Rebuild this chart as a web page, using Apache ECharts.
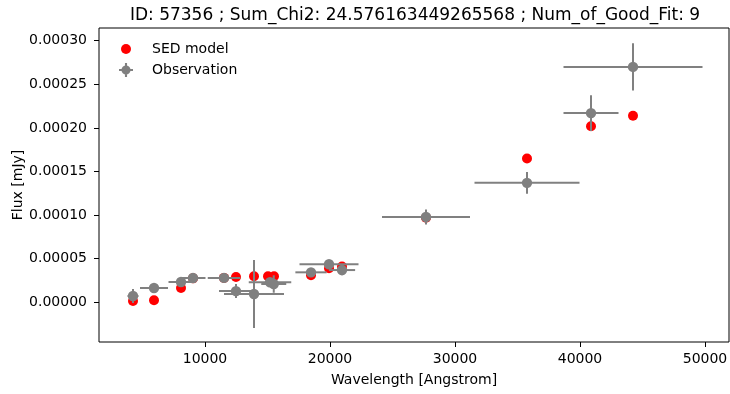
<!DOCTYPE html>
<html>
<head>
<meta charset="utf-8">
<script src="https://cdn.jsdelivr.net/npm/echarts@6/dist/echarts.min.js"></script>
<style>
  html, body { margin: 0; padding: 0; background: #fff; }
  #chart { width: 730px; height: 394px; }
</style>
</head>
<body>
<div id="chart"></div>
<script>
// Observed photometry: wavelength (Angstrom), flux (mJy) and the error half-widths
const obsWave = [4240, 5920, 8080, 9040, 11520, 12480, 13920, 15200, 15500, 18480, 19920, 20960, 27680, 35760, 40880, 44240];
const obsFlux = [7.2e-6, 1.64e-5, 2.33e-5, 2.79e-5, 2.8e-5, 1.29e-5, 9.5e-6, 2.3e-5, 2.1e-5, 3.44e-5, 4.37e-5, 3.7e-5, 9.78e-5, 1.37e-4, 2.17e-4, 2.70e-4];
const obsWaveErr = [440, 1120, 1000, 1000, 1300, 1360, 2400, 1700, 1000, 1250, 2360, 1050, 3520, 4200, 2200, 5560];
const obsFluxErr = [8e-6, 2e-6, 3e-6, 2e-6, 2e-6, 8e-6, 3.9e-5, 3e-6, 1e-5, 3e-6, 3e-6, 6e-6, 8.6e-6, 1.26e-5, 2.06e-5, 2.7e-5];

// Best-fit SED model fluxes
const modelWave = [4240, 5920, 8080, 9040, 11520, 12480, 13920, 15040, 15520, 18480, 19920, 20960, 27680, 35760, 40880, 44240];
const modelFlux = [1.5e-6, 2.4e-6, 1.64e-5, 2.75e-5, 2.8e-5, 2.9e-5, 3.0e-5, 3.0e-5, 3.0e-5, 3.1e-5, 3.9e-5, 4.1e-5, 9.7e-5, 1.65e-4, 2.02e-4, 2.14e-4];

// Tick labels
const xTicks = [10000, 20000, 30000, 40000, 50000];
const yTicks = [0, 0.00005, 0.0001, 0.00015, 0.0002, 0.00025, 0.0003];

const titleText = 'ID: 57356 ; Sum_Chi2: 24.576163449265568 ; Num_of_Good_Fit: 9';

const FONT = 'DejaVu Sans';
const RED = '#ff0000';
const GRAY = '#808080';

const modelData = modelWave.map((w, i) => [w, modelFlux[i]]);
const obsData = obsWave.map((w, i) => [w, obsFlux[i], obsWaveErr[i], obsFluxErr[i]]);

// Legend glyph: dot with a cross of error bars
const obsIcon = 'path://M0,8.5H20V11.5H0Z M8.5,0H11.5V20H8.5Z M10,3.5A6.5,6.5,0,1,1,10,16.5A6.5,6.5,0,1,1,10,3.5Z';

function renderErrorBar(params, api) {
  const x = api.value(0), y = api.value(1), dx = api.value(2), dy = api.value(3);
  const c = api.coord([x, y]);
  const l = api.coord([x - dx, y]);
  const r = api.coord([x + dx, y]);
  const t = api.coord([x, y + dy]);
  const b = api.coord([x, y - dy]);
  const style = { stroke: GRAY, lineWidth: 2, fill: null };
  return {
    type: 'group',
    children: [
      { type: 'line', shape: { x1: l[0], y1: l[1], x2: r[0], y2: r[1] }, style },
      { type: 'line', shape: { x1: t[0], y1: t[1], x2: b[0], y2: b[1] }, style },
      { type: 'circle', shape: { cx: c[0], cy: c[1], r: 5.2 }, style: { fill: GRAY } }
    ]
  };
}

const legendText = { fontFamily: FONT, fontSize: 14, color: '#000' };

const chart = echarts.init(document.getElementById('chart'), null, { renderer: 'canvas' });
chart.setOption({
  animation: false,
  backgroundColor: '#fff',
  title: {
    text: titleText,
    left: 410, top: 2, textAlign: 'center',
    textStyle: { fontFamily: FONT, fontSize: 17, fontWeight: 'normal', color: '#000' }
  },
  legend: [
    {
      left: 116, top: 37, padding: 5, itemWidth: 10, itemHeight: 10,
      textStyle: Object.assign({ padding: [0, 0, 0, 16] }, legendText),
      data: [{ name: 'SED model', icon: 'circle', itemStyle: { color: RED } }]
    },
    {
      left: 114, top: 58, padding: 5, itemWidth: 14, itemHeight: 14,
      textStyle: Object.assign({ padding: [0, 0, 0, 14] }, legendText),
      data: [{ name: 'Observation', icon: obsIcon, itemStyle: { color: GRAY } }]
    }
  ],
  grid: {
    left: 99, right: 1, top: 28, bottom: 52,
    containLabel: false, outerBoundsMode: 'none',
    show: true, borderColor: '#000', borderWidth: 1, backgroundColor: 'transparent'
  },
  xAxis: {
    type: 'value', min: 1520, max: 51920,
    name: 'Wavelength [Angstrom]', nameLocation: 'middle', nameGap: 31, nameMoveOverlap: false,
    nameTextStyle: { fontFamily: FONT, fontSize: 14, color: '#000' },
    axisLine: { show: false, onZero: false },
    axisTick: { show: true, inside: false, length: 5, lineStyle: { color: '#000' }, customValues: xTicks },
    axisLabel: { fontFamily: FONT, fontSize: 14, color: '#000', margin: 10, customValues: xTicks, formatter: v => String(v) },
    splitLine: { show: false }
  },
  yAxis: {
    type: 'value', min: -0.0000455, max: 0.0003146,
    name: 'Flux [mJy]', nameLocation: 'middle', nameGap: 74, nameMoveOverlap: false,
    nameTextStyle: { fontFamily: FONT, fontSize: 14, color: '#000' },
    axisLine: { show: false, onZero: false },
    axisTick: { show: true, inside: false, length: 5, lineStyle: { color: '#000' }, customValues: yTicks },
    axisLabel: { fontFamily: FONT, fontSize: 14, color: '#000', margin: 12, customValues: yTicks, formatter: v => v.toFixed(5) },
    splitLine: { show: false }
  },
  series: [
    {
      name: 'SED model', type: 'scatter', data: modelData,
      symbol: 'circle', symbolSize: 10, itemStyle: { color: RED, opacity: 1 }, z: 2
    },
    {
      name: 'Observation', type: 'custom', data: obsData,
      renderItem: renderErrorBar, itemStyle: { color: GRAY },
      encode: { x: 0, y: 1 }, z: 3
    }
  ]
});
</script>
</body>
</html>
